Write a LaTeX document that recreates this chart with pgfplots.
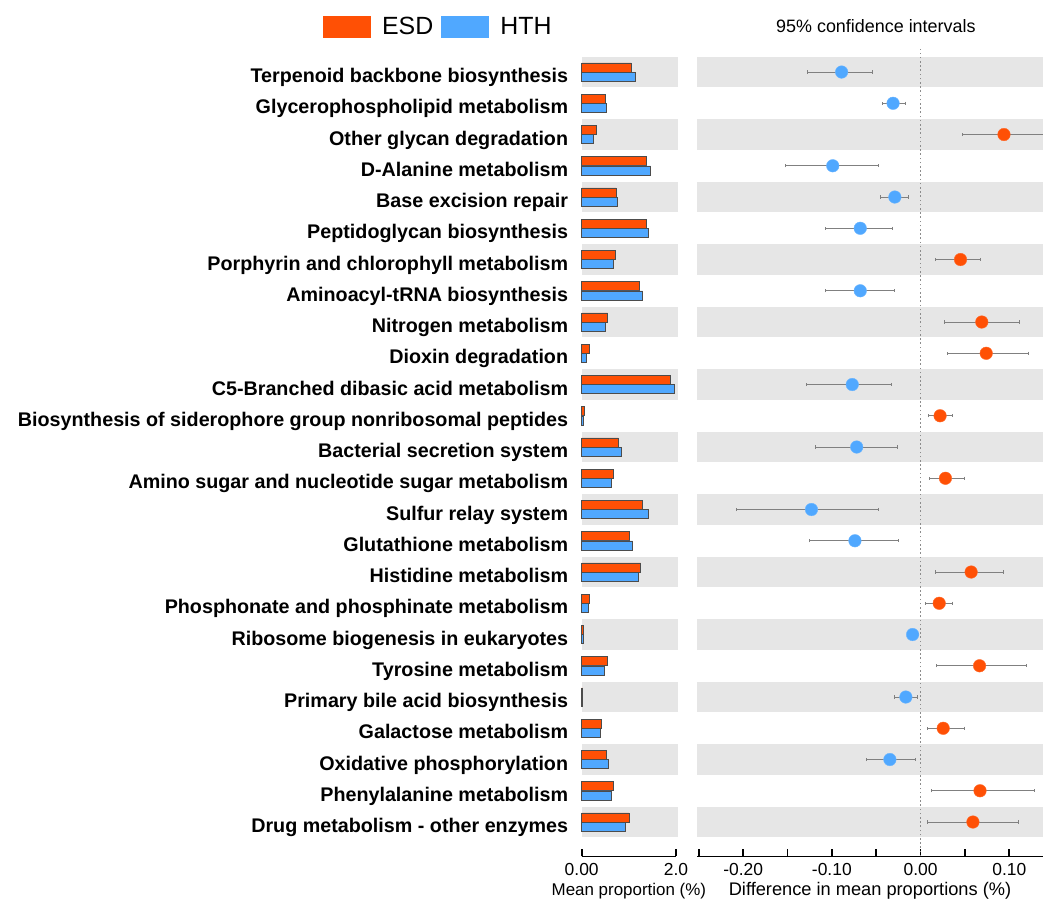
\documentclass[border=0pt]{standalone}
\usepackage{fontspec}
\setmainfont{Liberation Sans}
\usepackage{pgfplots}
\pgfplotsset{compat=1.18}
\usepackage{pgfplotstable}
\definecolor{esd}{RGB}{255,80,5}
\definecolor{hth}{RGB}{80,168,255}
\definecolor{band}{RGB}{230,230,230}

\pgfplotstableread{
y esd hth
25 1.05 1.13
24 0.49 0.53
23 0.32 0.25
22 1.36 1.46
21 0.73 0.76
20 1.36 1.42
19 0.71 0.67
18 1.23 1.29
17 0.55 0.49
16 0.155 0.09
15 1.87 1.96
14 0.05 0.03
13 0.78 0.83
12 0.66 0.63
11 1.29 1.42
10 1.02 1.08
9 1.25 1.20
8 0.16 0.14
7 0.04 0.035
6 0.54 0.47
5 0.02 0.015
4 0.41 0.39
3 0.52 0.56
2 0.68 0.62
1 1.00 0.93
}\means

\pgfplotstableread{
y mean lo hi
25 -0.089 -0.127 -0.054
24 -0.031 -0.043 -0.017
22 -0.099 -0.152 -0.048
21 -0.029 -0.045 -0.0135
20 -0.068 -0.107 -0.032
18 -0.068 -0.107 -0.030
15 -0.077 -0.129 -0.033
13 -0.072 -0.119 -0.026
11 -0.123 -0.207 -0.047
10 -0.074 -0.125 -0.0245
7 -0.009 -0.014 -0.002
5 -0.0166 -0.030 -0.0034
3 -0.0346 -0.061 -0.0056
}\negdiff

\pgfplotstableread{
y mean lo hi
23 0.094 0.047 0.142
19 0.045 0.017 0.068
17 0.069 0.027 0.112
16 0.074 0.030 0.122
14 0.022 0.009 0.036
12 0.028 0.0097 0.050
9 0.057 0.017 0.093
8 0.021 0.006 0.036
6 0.0665 0.018 0.119
4 0.0255 0.0075 0.049
2 0.067 0.012 0.128
1 0.059 0.0075 0.110
}\posdiff

\pgfplotsset{
  common/.style={
    scale only axis,
    height=807.8bp,
    ymin=-0.1, ymax=25.75,
    clip=false,
    axis x line*=bottom,
    x axis line style={line width=1.6bp},
    tick align=inside,
    major tick length=7bp,
    minor tick length=7bp,
    x tick style={black, line width=1.6bp},
    xticklabel style={anchor=base, inner sep=0pt, yshift=-18.6bp, font=\fontsize{17.5}{21}\selectfont},
    xlabel style={at={(axis description cs:0.5,0)}, anchor=base, inner sep=0pt, yshift=-38.6bp, font=\fontsize{17}{20}\selectfont},
  }
}

\begin{document}
\begin{tikzpicture}
\path[use as bounding box] (0,0) rectangle (1043bp,900bp);

% left panel: mean proportions
\begin{axis}[common,
  at={(581.7bp,43.6bp)}, anchor=south west,
  width=94.3bp,
  xmin=0, xmax=2,
  xtick={0,2}, xticklabels={0.00,2.0},
  xlabel={Mean proportion (\%)},
  axis y line*=left,
  y axis line style={draw=none},
  ytick style={draw=none},
  ytick={1,...,25},
  yticklabels={
    {Drug metabolism - other enzymes},
    {Phenylalanine metabolism},
    {Oxidative phosphorylation},
    {Galactose metabolism},
    {Primary bile acid biosynthesis},
    {Tyrosine metabolism},
    {Ribosome biogenesis in eukaryotes},
    {Phosphonate and phosphinate metabolism},
    {Histidine metabolism},
    {Glutathione metabolism},
    {Sulfur relay system},
    {Amino sugar and nucleotide sugar metabolism},
    {Bacterial secretion system},
    {Biosynthesis of siderophore group nonribosomal peptides},
    {C5-Branched dibasic acid metabolism},
    {Dioxin degradation},
    {Nitrogen metabolism},
    {Aminoacyl-tRNA biosynthesis},
    {Porphyrin and chlorophyll metabolism},
    {Peptidoglycan biosynthesis},
    {Base excision repair},
    {D-Alanine metabolism},
    {Other glycan degradation},
    {Glycerophospholipid metabolism},
    {Terpenoid backbone biosynthesis}},
  yticklabel style={anchor=base east, inner sep=0pt, xshift=-13.4bp, yshift=-10.5bp,
    font=\fontsize{19.8}{23}\selectfont\bfseries},
  legend style={at={(axis description cs:-2.7434,1.0267)}, anchor=west,
    draw=none, fill=none, inner sep=0pt, outer sep=0pt,
    legend columns=-1,
    font=\fontsize{25}{30}\selectfont,
    nodes={inner sep=0pt},
    /tikz/every even column/.append style={column sep=8bp},
    /tikz/every odd column/.append style={column sep=11.5bp}},
]
\pgfplotsinvokeforeach{1,3,5,7,9,11,13,15,17,19,21,23,25}{
  \fill[band] (axis cs:0,{#1-0.49}) rectangle (axis cs:2.05,{#1+0.49});
}
\addplot[xbar, bar width=9bp, bar shift=0pt, fill=esd, draw=black!70, line width=0.6bp,
  legend image code/.code={\fill[esd] (0bp,-10.5bp) rectangle (47bp,10.5bp);}]
  table[x=esd, y expr=\thisrow{y}+0.15]{\means};
\addlegendentry{ESD}
\addplot[xbar, bar width=9bp, bar shift=0pt, fill=hth, draw=black!70, line width=0.6bp,
  legend image code/.code={\fill[hth] (0bp,-10.5bp) rectangle (47bp,10.5bp);}]
  table[x=hth, y expr=\thisrow{y}-0.15]{\means};
\addlegendentry{HTH}
\end{axis}

% right panel: differences with 95% CI
\begin{axis}[common,
  at={(697bp,43.6bp)}, anchor=south west,
  width=346bp,
  xmin=-0.252, xmax=0.138,
  xtick={-0.2,-0.1,0,0.1},
  xticklabels={-0.20,-0.10,0.00,0.10},
  minor xtick={-0.25,-0.15,-0.05,0.05},
  xlabel={Difference in mean proportions (\%)},
  xlabel style={font=\fontsize{18.3}{22}\selectfont},
  axis y line=none,
  ytick=\empty,
]
\pgfplotsinvokeforeach{1,3,5,7,9,11,13,15,17,19,21,23,25}{
  \fill[band] (axis cs:-0.252,{#1-0.49}) rectangle (axis cs:0.138,{#1+0.49});
}
\draw[black!45, line width=1.4bp, dash pattern=on 1.6bp off 2.6bp]
  (axis cs:0,-0.1) -- (axis cs:0,25.75);
\addplot[only marks, mark=*, mark size=6.3bp, mark options={fill=hth, draw=hth!85!white},
  error bars/.cd, x dir=both, x explicit,
  error bar style={black!50, line width=0.9bp},
  error mark options={rotate=90, mark size=1.6bp, black!50, line width=0.9bp}]
  table[x=mean, y=y,
    x error plus expr=\thisrow{hi}-\thisrow{mean},
    x error minus expr=\thisrow{mean}-\thisrow{lo}]{\negdiff};
\addplot[only marks, mark=*, mark size=6.3bp, mark options={fill=esd, draw=esd!85!white},
  error bars/.cd, x dir=both, x explicit,
  error bar style={black!50, line width=0.9bp},
  error mark options={rotate=90, mark size=1.6bp, black!50, line width=0.9bp}]
  table[x=mean, y=y,
    x error plus expr=\thisrow{hi}-\thisrow{mean},
    x error minus expr=\thisrow{mean}-\thisrow{lo}]{\posdiff};
\node[anchor=base, inner sep=0pt, font=\fontsize{18}{22}\selectfont]
  at (axis description cs:0.517,1.0197) {95\% confidence intervals};
\end{axis}
\end{tikzpicture}
\end{document}
